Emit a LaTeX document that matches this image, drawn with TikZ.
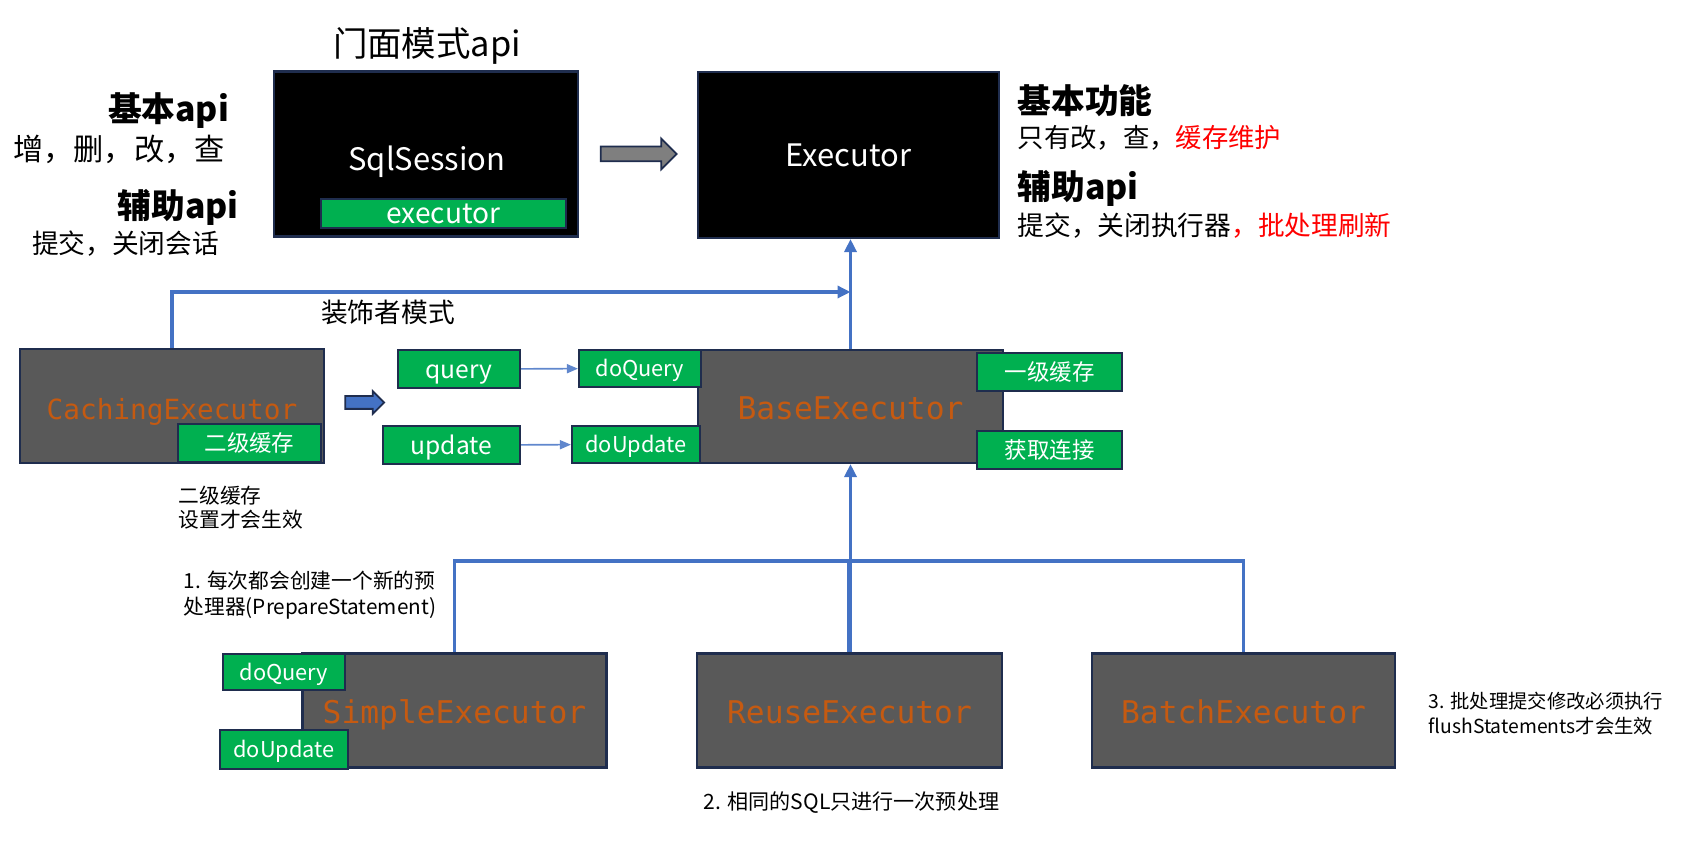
\documentclass[tikz,border=0pt]{standalone}
\usepackage{fontspec}
\setmainfont{Noto Sans CJK SC}
\newfontfamily\codefont{DejaVu Sans Mono}
\usetikzlibrary{arrows.meta,shapes.arrows}
\definecolor{exnavy}{HTML}{1F2D4E}
\definecolor{exgray}{HTML}{595959}
\definecolor{exgreen}{HTML}{00B050}
\definecolor{exblue}{HTML}{4472C4}
\definecolor{exorange}{HTML}{C55A11}
\definecolor{exred}{HTML}{FF0000}
\definecolor{exarrow}{HTML}{7F7F7F}
\tikzset{
  bx/.style={draw=exnavy, line width=0.6pt, inner sep=0pt, align=center},
  blk/.style={bx, fill=black, text=white, minimum width=3.04cm, minimum height=1.65cm, font=\fontsize{8.8}{10}\selectfont},
  gry/.style={bx, fill=exgray, text=exorange, minimum width=3.04cm, minimum height=1.14cm, text height=1em, text depth=0.24em, font=\codefont\fontsize{8.9}{10}\selectfont},
  tag/.style={bx, fill=exgreen, text=white, minimum height=0.37cm, font=\fontsize{6.4}{7}\selectfont},
  tagen/.style={tag, text height=0.48em, text depth=0em, font=\fontsize{6.2}{7}\selectfont},
  blockarr/.style={single arrow, draw=exnavy, line width=0.5pt, inner xsep=0pt},
  txt/.style={inner sep=0pt, align=left},
  head/.style={txt, font=\bfseries\fontsize{9.6}{11}\selectfont},
  note/.style={txt, anchor=west, font=\fontsize{5.9}{7.4}\selectfont},
  wire/.style={draw=exblue, line width=1pt},
  arr/.style={wire, -{Triangle[length=1.3mm, width=1.2mm]}},
  tarr/.style={draw=exblue!85, line width=0.45pt, -{Triangle[length=1.1mm, width=0.9mm]}},
}
\begin{document}
\begin{tikzpicture}
  \useasboundingbox (0,0) rectangle (17.07,8.40);
  % facade and executor
  \node[txt, font=\fontsize{9.8}{11}\selectfont] (ttl) at (4.27,7.94) {门面模式api};
  \node[blk] (sess) at (4.26,6.86) {};
  \node[txt, text=white, font=\fontsize{8.8}{10}\selectfont] (sname) at (4.27,6.78) {SqlSession};
  \node[tag, minimum width=2.45cm, minimum height=0.29cm, font=\fontsize{8}{9}\selectfont] (sexe) at (4.435,6.265) {executor};
  \node[blockarr, fill=exarrow, minimum height=0.76cm, inner ysep=0.065cm, single arrow head extend=0.08cm] (fwd) at (6.35,6.86) {};
  \node[blk, minimum width=3.01cm, minimum height=1.66cm] (exec) at (8.485,6.85) {Executor};
  % left notes
  \node[head] (bapi) at (1.685,7.29) {基本api};
  \node[txt, font=\fontsize{8.6}{10}\selectfont] (crud) at (1.19,6.91) {增，删，改，查};
  \node[head] (hapi) at (1.78,6.33) {辅助api};
  \node[txt, font=\fontsize{7.6}{9}\selectfont] (hapx) at (1.255,5.96) {提交，关闭会话};
  % right notes
  \node[head, anchor=west] (bfn) at (10.17,7.39) {基本功能};
  \node[txt, anchor=west, font=\fontsize{7.5}{9}\selectfont] (bfnx) at (10.17,7.025) {只有改，查，\textcolor{exred}{缓存维护}};
  \node[head, anchor=west] (efn) at (10.17,6.52) {辅助api};
  \node[txt, anchor=west, font=\fontsize{7.6}{9}\selectfont] (efnx) at (10.17,6.14) {提交，关闭执行器\textcolor{exred}{，批处理刷新}};
  % decorator row
  \node[txt, font=\fontsize{7.6}{9}\selectfont] (deco) at (3.88,5.28) {装饰者模式};
  \node[gry, font=\codefont\fontsize{7.9}{9}\selectfont] (cach) at (1.72,4.34) {CachingExecutor};
  \node[tag, minimum width=1.43cm, minimum height=0.38cm] (cach2) at (2.495,3.97) {二级缓存};
  \node[blockarr, fill=exblue, minimum height=0.39cm, inner ysep=0.055cm, single arrow head extend=0.05cm] (dec) at (3.615,4.375) {};
  \node[tagen, minimum width=1.22cm, minimum height=0.38cm, text height=0.55em, font=\fontsize{7}{8}\selectfont] (qry) at (4.59,4.71) {query};
  \node[tagen, minimum width=1.37cm, minimum height=0.38cm, text height=0.55em, font=\fontsize{7}{8}\selectfont] (upd) at (4.515,3.95) {update};
  \node[gry, minimum width=3.05cm, minimum height=1.13cm] (base) at (8.505,4.335) {BaseExecutor};
  \node[tagen, minimum width=1.22cm] (bdoq) at (6.40,4.715) {doQuery};
  \node[tagen, minimum width=1.28cm] (bdou) at (6.36,3.955) {doUpdate};
  \node[tag, minimum width=1.45cm, minimum height=0.38cm] (lvl1) at (10.495,4.68) {一级缓存};
  \node[tag, minimum width=1.45cm, minimum height=0.38cm] (conn) at (10.495,3.90) {获取连接};
  \node[note, font=\fontsize{5.9}{6.8}\selectfont] (cnote) at (1.78,3.32) {二级缓存\\设置才会生效};
  \draw[tarr] (qry) -- (bdoq);
  \draw[tarr] (upd) -- (bdou);
  \coordinate (mrg) at (8.505,5.48);
  \draw[arr] (base.north) -- (base.north |- exec.south);
  \draw[arr] (cach.north) |- (mrg);
  % implementations
  \node[note] (n1) at (1.83,2.45) {1. 每次都会创建一个新的预\\处理器(PrepareStatement)};
  \node[gry] (simple) at (4.545,1.295) {SimpleExecutor};
  \node[gry, minimum width=3.05cm] (reuse) at (8.495,1.295) {ReuseExecutor};
  \node[gry, minimum width=3.03cm] (batch) at (12.435,1.295) {BatchExecutor};
  \node[tagen, minimum width=1.22cm, minimum height=0.36cm] (sdoq) at (2.84,1.68) {doQuery};
  \node[tagen, minimum width=1.28cm, minimum height=0.39cm] (sdou) at (2.84,0.905) {doUpdate};
  \coordinate (bus) at (8.505,2.79);
  \draw[wire] (simple.north) |- (bus) -| (batch.north);
  \draw[wire, line width=1.4pt] (reuse.north) -- (reuse.north |- bus);
  \draw[arr] (base.south |- bus) -- (base.south);
  \node[note, font=\fontsize{6}{7}\selectfont] (n2) at (7.03,0.37) {2. 相同的SQL只进行一次预处理};
  \node[note, font=\fontsize{5.5}{7.1}\selectfont] (n3) at (14.28,1.265) {3. 批处理提交修改必须执行\\flushStatements才会生效};
\end{tikzpicture}
\end{document}
